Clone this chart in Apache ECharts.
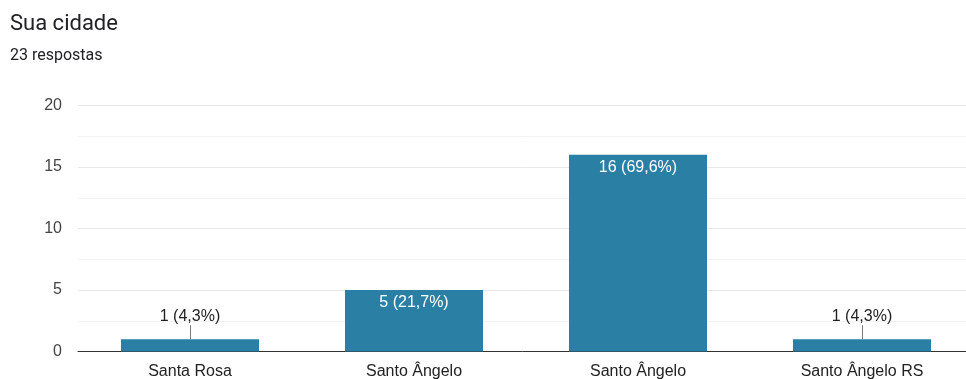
<!DOCTYPE html>
<html>
<head>
<meta charset="utf-8">
<script src="https://cdn.jsdelivr.net/npm/echarts@6/dist/echarts.min.js"></script>
<style>
  html, body { margin: 0; padding: 0; background: #fff; }
  #chart { width: 966px; height: 379px; }
</style>
</head>
<body>
<div id="chart"></div>
<script>
// Respostas por cidade
const categories = ['Santa Rosa', 'Santo Ângelo', 'Santo Ângelo', 'Santo Ângelo RS'];
const counts = [1, 5, 16, 1];
const totalResponses = 23;
const yTicks = [0, 5, 10, 15, 20];

const BAR_COLOR = '#2a7fa4';
const SMALL_LIMIT = 3; // bars shorter than this get their label outside
const LABEL_FONT = 'Liberation Sans, Arial';

function pct(v) {
  return (v / totalResponses * 100).toFixed(1).replace('.', ',') + '%';
}

const seriesData = counts.map(function (v) {
  const small = v < SMALL_LIMIT;
  return {
    value: v,
    label: small
      ? { position: 'top', distance: 15, color: '#222' }
      : { position: 'insideTop', distance: 5, color: '#fff' }
  };
});

// leader lines for the outside labels
const leaderData = [];
counts.forEach(function (v, i) {
  if (v < SMALL_LIMIT) leaderData.push([i, v]);
});

const chart = echarts.init(document.getElementById('chart'), null, { renderer: 'canvas' });

chart.setOption({
  animation: false,
  title: {
    text: 'Sua cidade',
    subtext: totalResponses + ' respostas',
    left: 10,
    top: 13,
    padding: 0,
    itemGap: 13,
    textStyle: { fontFamily: 'Roboto', fontSize: 22, fontWeight: 'normal', color: '#202124' },
    subtextStyle: { fontFamily: 'Roboto', fontSize: 16, color: '#202124' }
  },
  // the plot runs a little past the right edge of the canvas
  grid: { left: 78, top: 105.5, width: 896, height: 246, outerBoundsMode: 'none', containLabel: false },
  xAxis: {
    type: 'category',
    data: categories,
    axisLine: { lineStyle: { color: '#333', width: 1 } },
    axisTick: { show: false },
    axisLabel: { fontFamily: LABEL_FONT, fontSize: 16, color: '#222', margin: 12 }
  },
  yAxis: {
    type: 'value',
    min: yTicks[0],
    max: yTicks[yTicks.length - 1],
    interval: 5,
    axisLine: { show: false },
    axisTick: { show: false },
    axisLabel: { fontFamily: LABEL_FONT, fontSize: 16, color: '#444', margin: 16 },
    splitLine: { lineStyle: { color: '#e8e8e8', width: 1 } },
    minorTick: { show: false, splitNumber: 2 },
    minorSplitLine: { show: true, lineStyle: { color: '#f3f3f3', width: 1 } }
  },
  series: [{
    type: 'bar',
    data: seriesData,
    barWidth: 138,
    itemStyle: { color: BAR_COLOR },
    label: {
      show: true,
      fontFamily: LABEL_FONT,
      fontSize: 16,
      formatter: function (p) { return p.value + ' (' + pct(p.value) + ')'; }
    }
  }, {
    type: 'custom',
    data: leaderData,
    silent: true,
    z: 3,
    renderItem: function (params, api) {
      const pt = api.coord([api.value(0), api.value(1)]);
      return {
        type: 'line',
        shape: { x1: pt[0] + 0.5, y1: pt[1], x2: pt[0] + 0.5, y2: pt[1] - 14 },
        style: { stroke: '#777', lineWidth: 1 }
      };
    }
  }]
});
</script>
</body>
</html>
